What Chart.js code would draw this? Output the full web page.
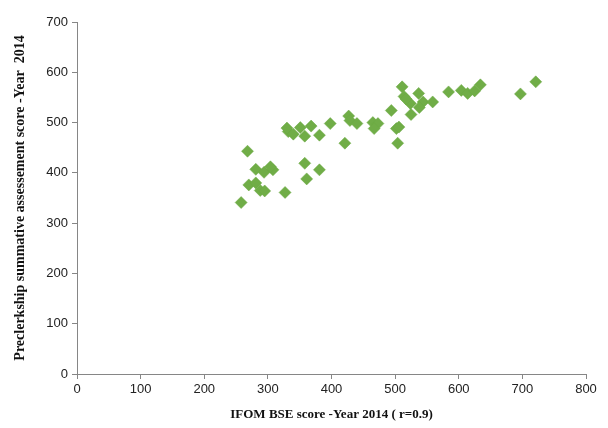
<!DOCTYPE html>
<html>
<head>
<meta charset="utf-8">
<script src="https://cdn.jsdelivr.net/npm/chart.js@4"></script>
<style>
  html, body { margin: 0; padding: 0; background: #fff; }
  #wrap { width: 608px; height: 428px; position: relative; }
</style>
</head>
<body>
<div id="wrap"><canvas id="scatterChart"></canvas></div>
<script>
// IFOM BSE score (x) vs preclerkship summative score (y)
const bseScores = [
    258, 268, 270, 281, 281, 288, 295, 294, 308, 304,
    327, 358, 361, 381, 332, 330, 340, 351, 368, 358,
    381, 398, 427, 429, 440, 421, 465, 473, 467, 494,
    502, 504, 511, 514, 524, 537, 544, 538, 525, 559,
    584, 604, 614, 625, 634, 697, 721, 506, 517
];
const summativeScores = [
    341, 443, 376, 380, 407, 365, 364, 401, 406, 412,
    361, 419, 388, 406, 482, 489, 477, 490, 493, 473,
    475, 498, 513, 504, 498, 459, 500, 498, 488, 524,
    488, 459, 571, 552, 538, 558, 541, 530, 516, 541,
    561, 564, 558, 563, 575, 557, 581, 491, 547
];

const xTitle = 'IFOM BSE score -Year 2014 ( r=0.9)';
const yTitle = 'Preclerkship summative assessement score -Year  2014';

const points = bseScores.map((x, i) => ({ x: x, y: summativeScores[i] }));

const axisColor = '#868686';
const tickFont = { family: 'Liberation Sans', size: 13 };

new Chart(document.getElementById('scatterChart').getContext('2d'), {
    type: 'scatter',
    data: {
        datasets: [{
            label: 'Scores',
            data: points,
            backgroundColor: '#70ad47',
            borderColor: '#6aa842',
            borderWidth: 0.5,
            pointStyle: 'rectRot',
            pointRadius: 6,
            pointHoverRadius: 6
        }]
    },
    options: {
        responsive: true,
        maintainAspectRatio: false,
        animation: false,
        layout: { padding: { top: 22, right: 22, left: 0, bottom: 0 } },
        plugins: {
            legend: { display: false },
            tooltip: { enabled: false }
        },
        scales: {
            x: {
                type: 'linear',
                min: 0,
                max: 800,
                afterFit: (scale) => { scale.height = 54; },
                border: { color: axisColor, width: 1 },
                grid: {
                    drawOnChartArea: false,
                    drawTicks: true,
                    tickLength: 5,
                    color: axisColor
                },
                ticks: {
                    stepSize: 100,
                    color: '#222',
                    font: tickFont,
                    padding: 3,
                    maxRotation: 0
                },
                title: {
                    display: true,
                    text: xTitle,
                    color: '#111',
                    font: { family: 'Liberation Serif', size: 13, weight: 'bold' },
                    padding: { top: 8, bottom: 6 }
                }
            },
            y: {
                type: 'linear',
                min: 0,
                max: 700,
                afterFit: (scale) => { scale.width = 77; },
                border: { color: axisColor, width: 1 },
                grid: {
                    drawOnChartArea: false,
                    drawTicks: true,
                    tickLength: 5,
                    color: axisColor
                },
                ticks: {
                    stepSize: 100,
                    color: '#222',
                    font: tickFont,
                    padding: 4
                },
                title: {
                    display: true,
                    text: yTitle,
                    color: '#111',
                    font: { family: 'Liberation Serif', size: 14, weight: 'bold' },
                    padding: { top: 12, bottom: 4 }
                }
            }
        }
    }
});
</script>
</body>
</html>
